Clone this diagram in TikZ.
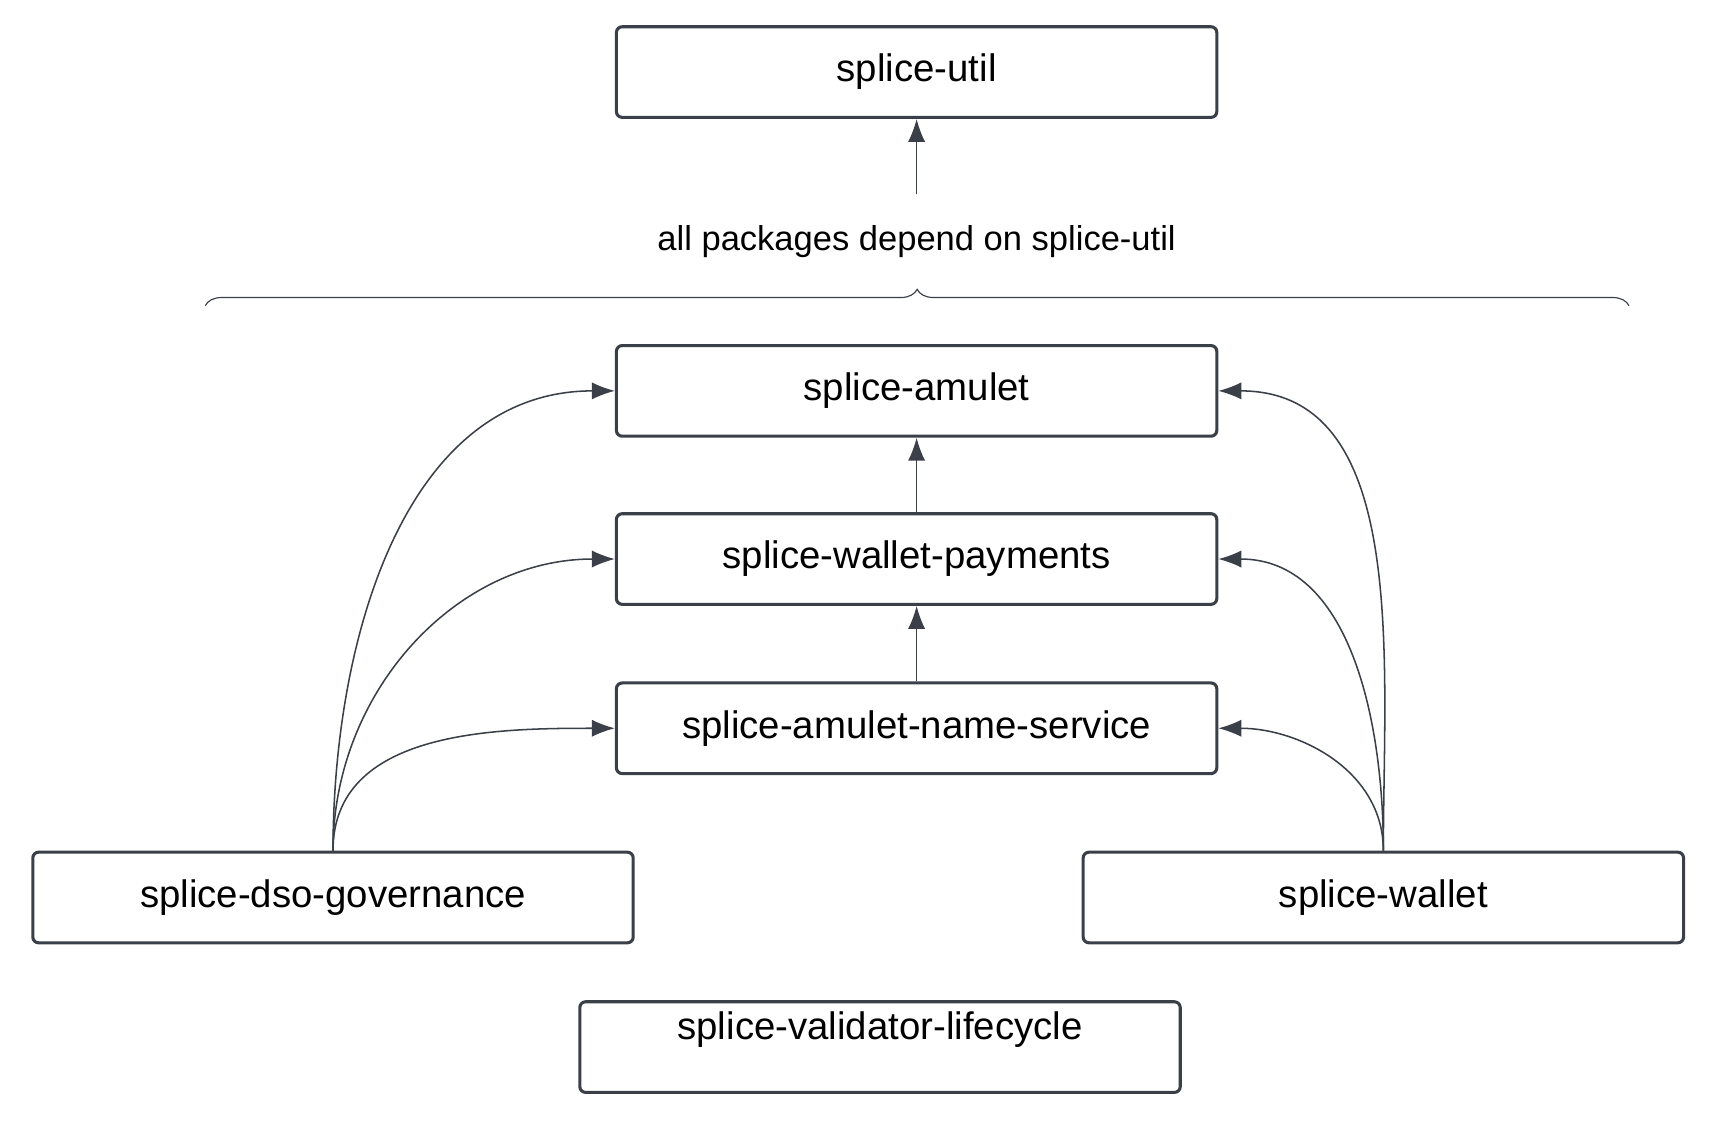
\documentclass[tikz,border=0pt]{standalone}
\usepackage{fontspec}
\setmainfont{Liberation Sans}
\usetikzlibrary{arrows.meta,decorations.pathreplacing}
\definecolor{ink}{HTML}{3A3F48}
\begin{document}
\begin{tikzpicture}[x=0.02cm,y=-0.02cm,
    pkg/.style={draw=ink, line width=1.6pt, rounded corners=3pt, minimum width=11.0cm, minimum height=1.66cm, font=\fontsize{20}{22}\selectfont},
    dep/.style={draw=ink, line width=0.8pt, -{Latex[length=12pt,width=9pt]}}]
  \useasboundingbox (0,0) rectangle (1568,1037);
  % Packages
  \node[pkg] (util) at (839.5,66) {splice-util};
  \node[pkg] (amulet) at (839.5,358) {splice-amulet};
  \node[pkg] (payments) at (839.5,512) {splice-wallet-payments};
  \node[pkg] (ans) at (839.5,667) {splice-amulet-name-service};
  \node[pkg] (dso) at (305,822) {splice-dso-governance};
  \node[pkg] (wallet) at (1267,822) {splice-wallet};
  \node[pkg, text depth=0.8cm] (validator) at (806,959) {splice-validator-lifecycle};

  % Brace
  \node[font=\fontsize{18}{20}\selectfont] (all) at (839.5,221) {all packages depend on splice-util};
  \draw[ink, line width=0.6pt, decorate, decoration={brace, amplitude=0.3cm}] (188,280) -- (1492,280);
  \coordinate (allup) at (839.5,178);
  \draw[dep] (allup) -- (util);

  % Chain
  \draw[dep] (payments) -- (amulet);
  \draw[dep] (ans) -- (payments);

  % Governance
  \draw[dep] (dso.north) to[out=90, in=180] (amulet.west);
  \draw[dep] (dso.north) to[out=90, in=180] (payments.west);
  \draw[dep] (dso.north) to[out=90, in=180] (ans.west);

  % Wallet
  \draw[dep] (wallet.north) to[out=90, in=0] (amulet.east);
  \draw[dep] (wallet.north) to[out=90, in=0] (payments.east);
  \draw[dep] (wallet.north) to[out=90, in=0] (ans.east);
\end{tikzpicture}
\end{document}
